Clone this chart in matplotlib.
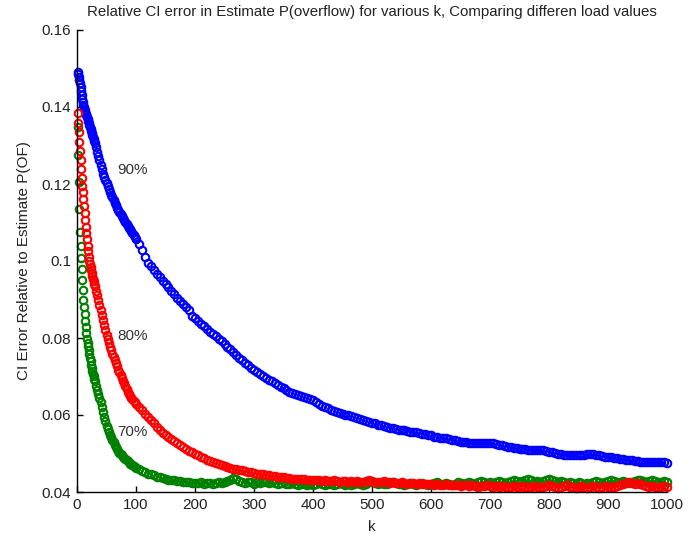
import matplotlib
matplotlib.use("Agg")
import matplotlib.pyplot as plt

# ---- data ----
k_fine = list(range(1, 31))
k_mid = list(range(32, 101, 2))
k_coarse = list(range(105, 1001, 5))

blue_fine = [0.1490, 0.1485, 0.1478, 0.1470, 0.1462, 0.1452, 0.1442, 0.1432, 0.1422, 0.1413,
             0.1406, 0.1399, 0.1393, 0.1388, 0.1383, 0.1378, 0.1373, 0.1368, 0.1363, 0.1358,
             0.1353, 0.1348, 0.1343, 0.1338, 0.1332, 0.1327, 0.1322, 0.1317, 0.1311, 0.1306]
blue_mid = [0.1295, 0.1284, 0.1272, 0.1262, 0.1250, 0.1238, 0.1226, 0.1217, 0.1210, 0.1202,
            0.1194, 0.1186, 0.1179, 0.1171, 0.1165, 0.1158, 0.1151, 0.1145, 0.1138, 0.1132,
            0.1127, 0.1121, 0.1116, 0.1111, 0.1106, 0.1101, 0.1096, 0.1091, 0.1087, 0.1082,
            0.1077, 0.1073, 0.1068, 0.1063, 0.1058]
blue_coarse = [0.1043, 0.1028, 0.1010, 0.0996, 0.0986, 0.0976, 0.0967, 0.0958, 0.0949, 0.0941,
               0.0932, 0.0923, 0.0913, 0.0904, 0.0896, 0.0888, 0.0880, 0.0872, 0.0858, 0.0851,
               0.0844, 0.0837, 0.0830, 0.0823, 0.0816, 0.0810, 0.0804, 0.0798, 0.0792, 0.0784,
               0.0777, 0.0771, 0.0763, 0.0757, 0.0749, 0.0743, 0.0736, 0.0729, 0.0722, 0.0716,
               0.0711, 0.0706, 0.0700, 0.0697, 0.0692, 0.0688, 0.0682, 0.0678, 0.0673, 0.0669,
               0.0665, 0.0661, 0.0658, 0.0655, 0.0652, 0.0650, 0.0647, 0.0644, 0.0641, 0.0638,
               0.0633, 0.0628, 0.0624, 0.0621, 0.0617, 0.0614, 0.0611, 0.0608, 0.0605, 0.0603,
               0.0601, 0.0599, 0.0597, 0.0595, 0.0592, 0.0589, 0.0587, 0.0584, 0.0582, 0.0580,
               0.0578, 0.0575, 0.0573, 0.0571, 0.0569, 0.0567, 0.0565, 0.0563, 0.0561, 0.0562,
               0.0560, 0.0558, 0.0556, 0.0557, 0.0555, 0.0553, 0.0551, 0.0550, 0.0549, 0.0547,
               0.0544, 0.0543, 0.0541, 0.0539, 0.0540, 0.0538, 0.0536, 0.0534, 0.0533, 0.0531,
               0.0530, 0.0530, 0.0528, 0.0528, 0.0527, 0.0527, 0.0528, 0.0527, 0.0526, 0.0526,
               0.0526, 0.0525, 0.0523, 0.0521, 0.0519, 0.0517, 0.0516, 0.0514, 0.0513, 0.0512,
               0.0511, 0.0511, 0.0510, 0.0509, 0.0510, 0.0509, 0.0508, 0.0508, 0.0506, 0.0505,
               0.0503, 0.0501, 0.0499, 0.0498, 0.0497, 0.0496, 0.0496, 0.0495, 0.0496, 0.0495,
               0.0496, 0.0497, 0.0499, 0.0500, 0.0499, 0.0497, 0.0496, 0.0494, 0.0492, 0.0491,
               0.0490, 0.0489, 0.0488, 0.0486, 0.0485, 0.0484, 0.0483, 0.0482, 0.0481, 0.0480,
               0.0479, 0.0479, 0.0478, 0.0478, 0.0479, 0.0478, 0.0477, 0.0477, 0.0478, 0.0476]

red_fine = [0.1384, 0.1358, 0.1334, 0.1310, 0.1285, 0.1262, 0.1238, 0.1215, 0.1196, 0.1178,
            0.1160, 0.1142, 0.1124, 0.1106, 0.1089, 0.1072, 0.1056, 0.1040, 0.1025, 0.1010,
            0.1001, 0.0992, 0.0984, 0.0976, 0.0968, 0.0961, 0.0954, 0.0947, 0.0941, 0.0935]
red_mid = [0.0923, 0.0911, 0.0898, 0.0885, 0.0872, 0.0859, 0.0846, 0.0834, 0.0822, 0.0809,
           0.0797, 0.0787, 0.0777, 0.0768, 0.0759, 0.0750, 0.0742, 0.0734, 0.0726, 0.0718,
           0.0711, 0.0703, 0.0696, 0.0689, 0.0682, 0.0675, 0.0668, 0.0661, 0.0655, 0.0649,
           0.0645, 0.0641, 0.0637, 0.0633, 0.0629]
red_coarse = [0.0620, 0.0612, 0.0603, 0.0594, 0.0586, 0.0578, 0.0570, 0.0562, 0.0554, 0.0548,
              0.0542, 0.0537, 0.0532, 0.0526, 0.0521, 0.0516, 0.0512, 0.0507, 0.0503, 0.0499,
              0.0495, 0.0491, 0.0488, 0.0484, 0.0480, 0.0477, 0.0475, 0.0472, 0.0470, 0.0468,
              0.0465, 0.0463, 0.0461, 0.0459, 0.0457, 0.0456, 0.0454, 0.0452, 0.0451, 0.0450,
              0.0448, 0.0447, 0.0446, 0.0445, 0.0443, 0.0442, 0.0441, 0.0440, 0.0439, 0.0438,
              0.0437, 0.0436, 0.0435, 0.0435, 0.0434, 0.0433, 0.0433, 0.0432, 0.0431, 0.0431,
              0.0430, 0.0431, 0.0429, 0.0430, 0.0428, 0.0429, 0.0430, 0.0428, 0.0427, 0.0429,
              0.0428, 0.0426, 0.0428, 0.0427, 0.0429, 0.0427, 0.0426, 0.0428, 0.0430, 0.0427,
              0.0425, 0.0427, 0.0426, 0.0428, 0.0425, 0.0424, 0.0426, 0.0424, 0.0423, 0.0425,
              0.0423, 0.0422, 0.0424, 0.0423, 0.0421, 0.0423, 0.0422, 0.0420, 0.0422, 0.0420,
              0.0419, 0.0421, 0.0419, 0.0418, 0.0420, 0.0419, 0.0417, 0.0419, 0.0418, 0.0416,
              0.0418, 0.0417, 0.0415, 0.0417, 0.0416, 0.0414, 0.0416, 0.0415, 0.0417, 0.0415,
              0.0413, 0.0415, 0.0414, 0.0416, 0.0414, 0.0412, 0.0414, 0.0416, 0.0414, 0.0413,
              0.0415, 0.0413, 0.0412, 0.0414, 0.0416, 0.0414, 0.0412, 0.0414, 0.0416, 0.0418,
              0.0415, 0.0413, 0.0411, 0.0413, 0.0415, 0.0417, 0.0414, 0.0412, 0.0410, 0.0413,
              0.0415, 0.0413, 0.0411, 0.0413, 0.0415, 0.0413, 0.0411, 0.0413, 0.0415, 0.0413,
              0.0412, 0.0414, 0.0416, 0.0418, 0.0421, 0.0423, 0.0425, 0.0424, 0.0422, 0.0424,
              0.0421, 0.0418, 0.0416, 0.0414, 0.0416, 0.0414, 0.0412, 0.0414, 0.0416, 0.0414]

green_fine = [0.1349, 0.1275, 0.1205, 0.1135, 0.1075, 0.1040, 0.1008, 0.0978, 0.0950, 0.0925,
              0.0900, 0.0880, 0.0862, 0.0845, 0.0828, 0.0812, 0.0798, 0.0788, 0.0778, 0.0768,
              0.0758, 0.0748, 0.0739, 0.0730, 0.0722, 0.0714, 0.0707, 0.0700, 0.0694, 0.0688]
green_mid = [0.0676, 0.0665, 0.0655, 0.0645, 0.0634, 0.0621, 0.0608, 0.0596, 0.0584, 0.0572,
             0.0563, 0.0556, 0.0549, 0.0542, 0.0535, 0.0529, 0.0523, 0.0517, 0.0511, 0.0506,
             0.0502, 0.0498, 0.0495, 0.0492, 0.0489, 0.0486, 0.0483, 0.0480, 0.0477, 0.0474,
             0.0472, 0.0469, 0.0467, 0.0465, 0.0463]
green_coarse = [0.0459, 0.0455, 0.0451, 0.0448, 0.0446, 0.0443, 0.0440, 0.0438, 0.0436, 0.0434,
                0.0432, 0.0431, 0.0430, 0.0429, 0.0428, 0.0427, 0.0426, 0.0425, 0.0424, 0.0424,
                0.0423, 0.0425, 0.0422, 0.0424, 0.0423, 0.0421, 0.0424, 0.0426, 0.0423, 0.0425,
                0.0428, 0.0432, 0.0437, 0.0434, 0.0429, 0.0426, 0.0424, 0.0427, 0.0425, 0.0422,
                0.0426, 0.0424, 0.0427, 0.0425, 0.0423, 0.0426, 0.0424, 0.0421, 0.0423, 0.0425,
                0.0422, 0.0420, 0.0423, 0.0421, 0.0419, 0.0422, 0.0420, 0.0418, 0.0421, 0.0419,
                0.0422, 0.0425, 0.0421, 0.0419, 0.0422, 0.0420, 0.0418, 0.0421, 0.0423, 0.0420,
                0.0418, 0.0421, 0.0419, 0.0422, 0.0424, 0.0421, 0.0419, 0.0422, 0.0425, 0.0428,
                0.0424, 0.0421, 0.0423, 0.0420, 0.0422, 0.0425, 0.0427, 0.0423, 0.0420, 0.0422,
                0.0419, 0.0421, 0.0424, 0.0422, 0.0419, 0.0421, 0.0423, 0.0420, 0.0418, 0.0421,
                0.0424, 0.0426, 0.0422, 0.0420, 0.0423, 0.0421, 0.0419, 0.0422, 0.0425, 0.0423,
                0.0421, 0.0424, 0.0427, 0.0424, 0.0422, 0.0425, 0.0428, 0.0425, 0.0423, 0.0426,
                0.0424, 0.0427, 0.0429, 0.0426, 0.0424, 0.0427, 0.0429, 0.0431, 0.0428, 0.0426,
                0.0428, 0.0431, 0.0433, 0.0430, 0.0427, 0.0429, 0.0426, 0.0428, 0.0431, 0.0434,
                0.0431, 0.0428, 0.0426, 0.0428, 0.0425, 0.0423, 0.0426, 0.0424, 0.0422, 0.0425,
                0.0423, 0.0421, 0.0424, 0.0422, 0.0425, 0.0428, 0.0426, 0.0424, 0.0427, 0.0429,
                0.0432, 0.0429, 0.0427, 0.0425, 0.0428, 0.0426, 0.0424, 0.0427, 0.0429, 0.0432,
                0.0430, 0.0428, 0.0426, 0.0428, 0.0431, 0.0429, 0.0427, 0.0425, 0.0428, 0.0426]

k_all = k_fine + k_mid + k_coarse
blue = blue_fine + blue_mid + blue_coarse
red = red_fine + red_mid + red_coarse
green = green_fine + green_mid + green_coarse
assert len(blue) == len(k_all), (len(blue), len(k_all))
assert len(red) == len(k_all), (len(red), len(k_all))
assert len(green) == len(k_all), (len(green), len(k_all))

series_labels = ["90%", "80%", "70%"]
label_pos = [(68, 0.1236), (68, 0.0805), (68, 0.0556)]

x_ticks = list(range(0, 1001, 100))
y_ticks = [0.04, 0.06, 0.08, 0.10, 0.12, 0.14, 0.16]
y_ticklabels = ["0.04", "0.06", "0.08", "0.1", "0.12", "0.14", "0.16"]

# ---- drawing ----
plt.rcParams['font.family'] = ['Liberation Sans', 'DejaVu Sans']
txt = '#222222'

fig = plt.figure(figsize=(6.92, 5.49), dpi=100)
ax = fig.add_axes([77 / 692, 57 / 549, 590 / 692, 462 / 549])

mk = dict(linestyle='none', marker='o', markerfacecolor='none',
          markersize=5.4, markeredgewidth=1.5, clip_on=False)
ax.plot(k_all, blue, markeredgecolor='#0000ff', **mk)
ax.plot(k_all, green, markeredgecolor='#008000', **mk)
ax.plot(k_all, red, markeredgecolor='#ff0000', **mk)

for lab, (lx, ly) in zip(series_labels, label_pos):
    ax.text(lx, ly, lab, fontsize=11, color='#333333', va='center', ha='left')

ax.set_xlim(0, 1000)
ax.set_ylim(0.04, 0.16)
ax.set_xticks(x_ticks)
ax.set_yticks(y_ticks)
ax.set_yticklabels(y_ticklabels)
ax.spines['top'].set_visible(False)
ax.spines['right'].set_visible(False)
for s in ('left', 'bottom'):
    ax.spines[s].set_linewidth(1.0)
    ax.spines[s].set_color('#000000')
ax.tick_params(direction='in', length=4, width=1.0, labelsize=11,
               labelcolor=txt, pad=4)

ax.set_xlabel('k', fontsize=11, color=txt, labelpad=6)
ax.set_ylabel('CI Error Relative to Estimate P(OF)', fontsize=11, color=txt, labelpad=8)
ax.set_title('Relative CI error in Estimate P(overflow) for various k, Comparing differen load values',
             fontsize=10.8, color=txt, pad=10)

fig.savefig('out.png', dpi=100)
